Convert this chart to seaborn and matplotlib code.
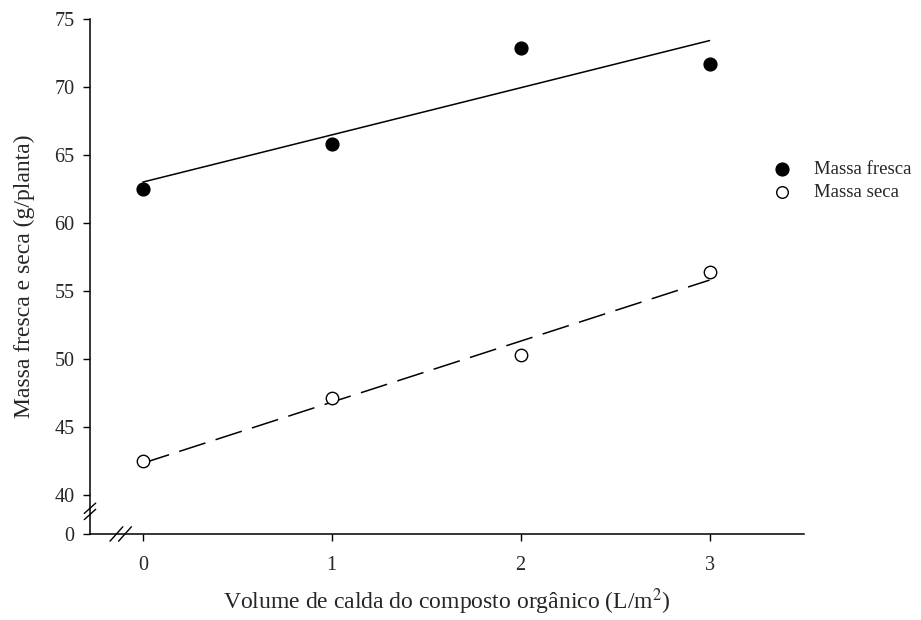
import numpy as np
import pandas as pd
import seaborn as sns
import matplotlib.pyplot as plt

# volume of organic compost slurry (L/m2)
volume = [0, 1, 2, 3]
# fresh and dry mass (g/plant)
massa_fresca = [62.5, 65.8, 72.9, 71.7]
massa_seca = [42.5, 47.1, 50.3, 56.4]

# broken y axis: the "0" tick sits just below 40
y_bottom = 37.13
y_ticks = [40, 45, 50, 55, 60, 65, 70, 75]

sns.set_style('ticks')
plt.rcParams['font.family'] = ['Liberation Serif', 'DejaVu Serif']
plt.rcParams['mathtext.fontset'] = 'stix'

df = pd.DataFrame({'volume': volume, 'fresca': massa_fresca, 'seca': massa_seca})

fig = plt.figure(figsize=(9.21, 6.2), dpi=100)
ax = fig.add_axes([0.0977, 0.1387, 0.7753, 0.8303])

sns.regplot(x='volume', y='fresca', data=df, ax=ax, ci=None, truncate=True,
            scatter_kws={'s': 85, 'color': 'black', 'edgecolor': 'black', 'linewidths': 1,
                         'alpha': 1, 'zorder': 3},
            line_kws={'color': 'black', 'lw': 1.1})
sns.regplot(x='volume', y='seca', data=df, ax=ax, ci=None, truncate=True,
            scatter_kws={'s': 80, 'facecolor': 'white', 'edgecolor': 'black', 'linewidths': 1,
                         'alpha': 1, 'zorder': 3},
            line_kws={'color': 'black', 'lw': 1.1, 'linestyle': (0, (18, 7))})

ax.set_xlim(-0.28, 3.5)
ax.set_ylim(y_bottom, 75)
ax.set_xticks(volume)
ax.set_xticklabels([str(v) for v in volume])
ax.set_yticks([y_bottom] + y_ticks)
ax.set_yticklabels(['0'] + [str(t) for t in y_ticks])
ax.tick_params(axis='both', labelsize=14.5, length=5, width=1, color='black')
ax.tick_params(axis='x', pad=11)
ax.tick_params(axis='y', pad=6)
sns.despine(ax=ax)
for sp in ['left', 'bottom']:
    ax.spines[sp].set_linewidth(1.1)
    ax.spines[sp].set_color('black')

ax.set_xlabel('Volume de calda do composto orgânico (L/m$^2$)', fontsize=17, labelpad=8)
ax.set_ylabel('Massa fresca e seca (g/planta)', fontsize=17, labelpad=14)

# axis break marks
for dy in (0, 0.012):
    ax.plot([-0.008, 0.008], [0.028 + dy, 0.048 + dy], transform=ax.transAxes,
            color='black', lw=1, clip_on=False)
for dx in (0, 0.012):
    ax.plot([0.028 + dx, 0.046 + dx], [-0.014, 0.014], transform=ax.transAxes,
            color='black', lw=1, clip_on=False)

# legend
ax.scatter([], [], s=85, color='black', label='Massa fresca')
ax.scatter([], [], s=70, facecolor='white', edgecolor='black', label='Massa seca')
handles, labels = ax.get_legend_handles_labels()
fig.legend(handles[-2:], labels[-2:], loc='upper left', bbox_to_anchor=(0.81, 0.768),
           frameon=False, fontsize=13.5, handletextpad=0.7, labelspacing=0.3)

fig.savefig('out.png', dpi=100)
